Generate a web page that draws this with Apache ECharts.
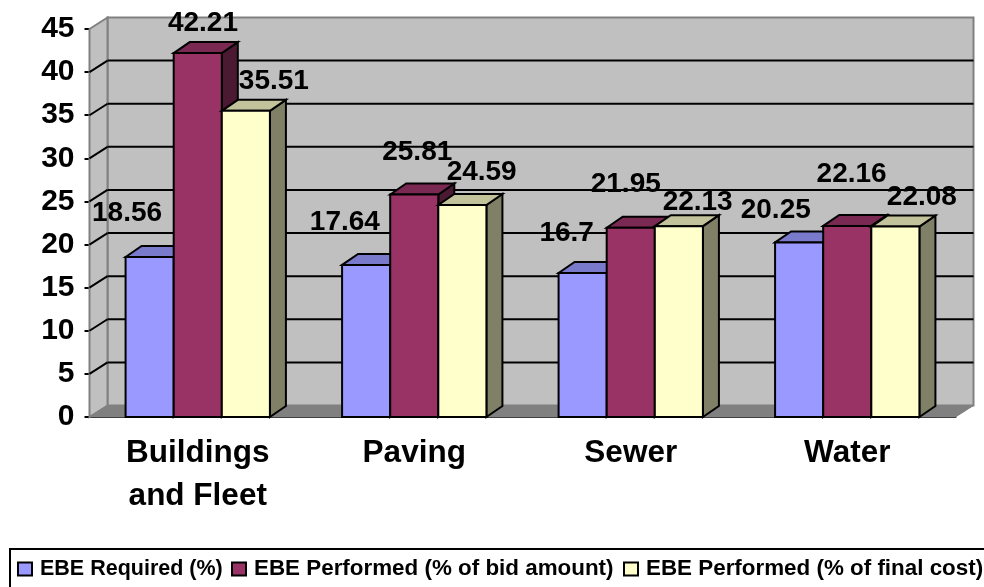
<!DOCTYPE html>
<html><head><meta charset="utf-8">
<style>html,body{margin:0;padding:0;background:#fff}#c{width:984px;height:587px}</style>
<script src="https://cdn.jsdelivr.net/npm/echarts@6/dist/echarts.min.js"></script></head>
<body><div id="c"></div>
<script>
const categories = ['Buildings\nand Fleet', 'Paving', 'Sewer', 'Water'];
const seriesNames = ['EBE Required (%)', 'EBE Performed (% of bid amount)', 'EBE Performed (% of final cost)'];
const required = [18.56, 17.64, 16.7, 20.25];
const bidAmount = [42.21, 25.81, 21.95, 22.16];
const finalCost = [35.51, 24.59, 22.13, 22.08];
const yTicks = [0, 5, 10, 15, 20, 25, 30, 35, 40, 45];

const FONT = '"Liberation Sans", Arial, sans-serif';
const faces = ['#9999ff', '#993366', '#ffffcc'];
const tops = ['#7a7acc', '#7a2952', '#c2c29b'];
const sides = ['#4c4c80', '#4c1933', '#808066'];
const D = { x: 18, y: 11.5 };
const B = { x: 16, y: 11 };
// hand placement of the data labels relative to the bar's top centre
const nudges = [
  [[-22.6, -44], [-21.3, -42.3], [-16, -40], [-23.4, -32.4]],
  [[5.2, -29.3], [3, -41.8], [-5, -43], [4.4, -51.3]],
  [[28, -29.8], [19.3, -32.3], [18.8, -23.5], [26.5, -29.6]]
];

function wall(params, api) {
  const cs = params.coordSys;
  const x0 = cs.x, x1 = cs.x + cs.width;
  const y0 = api.coord([0, 0])[1], yT = api.coord([0, 45])[1];
  const ch = [];
  const gs = { stroke: '#808080', lineWidth: 2, lineJoin: 'miter' };
  ch.push({ type: 'polygon', shape: { points: [[x0 + D.x, yT - D.y], [x1 + D.x, yT - D.y], [x1 + D.x, y0 - D.y], [x0 + D.x, y0 - D.y]] }, style: { fill: '#c0c0c0', ...gs } });
  ch.push({ type: 'polygon', shape: { points: [[x0, yT], [x0 + D.x, yT - D.y], [x0 + D.x, y0 - D.y], [x0, y0]] }, style: { fill: '#c0c0c0', ...gs } });
  ch.push({ type: 'polygon', shape: { points: [[x0, y0], [x0 + D.x, y0 - D.y], [x1 + D.x, y0 - D.y], [x1, y0]] }, style: { fill: '#808080', stroke: '#808080', lineWidth: 1 } });
  yTicks.forEach(function (t) {
    const y = api.coord([0, t])[1];
    if (t > 0 && t < 45) {
      ch.push({ type: 'line', shape: { x1: x0 + D.x, y1: y - D.y, x2: x1 + D.x, y2: y - D.y }, style: { stroke: '#000', lineWidth: 2 } });
    }
    if (t < 45) {
      ch.push({ type: 'line', shape: { x1: x0, y1: y, x2: x0 + D.x, y2: y - D.y }, style: { stroke: t === 0 ? '#808080' : '#000', lineWidth: t === 0 ? 1 : 2 } });
    }
  });
  return { type: 'group', children: ch };
}

function barRender(si, vals) {
  return function (params, api) {
    const cat = api.value(0), val = api.value(1);
    const band = api.size([1, 0])[0];
    const w = band / 4.5;
    const base = api.coord([cat, 0]);
    const top = api.coord([cat, val]);
    const l = base[0] + (si - 1.5) * w, r = l + w;
    const yT = top[1], yB = base[1];
    const st = { stroke: '#000', lineWidth: 2, lineJoin: 'miter' };
    const n = nudges[si][cat];
    return { type: 'group', children: [
      { type: 'polygon', shape: { points: [[r, yB], [r + B.x, yB - B.y], [r + B.x, yT - B.y], [r, yT]] }, style: { fill: sides[si], ...st } },
      { type: 'polygon', shape: { points: [[l, yT], [l + B.x, yT - B.y], [r + B.x, yT - B.y], [r, yT]] }, style: { fill: tops[si], ...st } },
      { type: 'rect', shape: { x: l, y: yT, width: w, height: yB - yT }, style: { fill: faces[si], ...st } },
      { type: 'text', z2: 100, style: { text: String(vals[cat]), x: (l + r) / 2 + n[0], y: yT + n[1], align: 'center', verticalAlign: 'middle', font: 'bold 28px ' + FONT, fill: '#000' } }
    ] };
  };
}

const chart = echarts.init(document.getElementById('c'), null, { renderer: 'canvas' });
const valuesBySeries = [required, bidAmount, finalCost];
const legendLefts = [17, 231, 623];
const legendSizes = [21.5, 22.4, 22.4];
chart.setOption({
  animation: false,
  backgroundColor: '#fff',
  grid: { left: 89.5, right: 28.5, top: 29, bottom: 170, containLabel: false },
  graphic: [{ type: 'rect', z: -1, shape: { x: 10, y: 549, width: 1100, height: 200 }, style: { fill: '#fff', stroke: '#000', lineWidth: 2 } }],
  legend: seriesNames.map(function (n, i) {
    return {
      left: legendLefts[i], top: 558, itemWidth: 14, itemHeight: 13, padding: 0, icon: 'rect',
      data: [{ name: n, itemStyle: { color: faces[i], borderColor: '#000', borderWidth: 2 } }],
      textStyle: { fontFamily: FONT, fontWeight: 'bold', fontSize: legendSizes[i], color: '#000', padding: [4, 0, 0, 3] }
    };
  }),
  xAxis: {
    type: 'category', data: categories,
    axisLine: { lineStyle: { color: '#000', width: 2 } },
    axisTick: { alignWithLabel: false, length: 6, lineStyle: { color: '#000', width: 2 } },
    axisLabel: { fontFamily: FONT, fontWeight: 'bold', fontSize: 31.5, color: '#000', lineHeight: 43, margin: 15, interval: 0 }
  },
  yAxis: {
    type: 'value', min: 0, max: 45, interval: 5,
    splitLine: { show: false },
    axisLine: { show: true, lineStyle: { color: '#000', width: 2 } },
    axisTick: { show: true, length: 5, lineStyle: { color: '#000', width: 2 } },
    axisLabel: { fontFamily: FONT, fontWeight: 'bold', fontSize: 30, color: '#000', margin: 15, padding: [6, 0, 0, 0] }
  },
  series: [
    { type: 'custom', name: '_wall', silent: true, z: 1, renderItem: wall, data: [[0, 0]], encode: { x: 0, y: 1 } }
  ].concat(seriesNames.map(function (n, i) {
    return {
      type: 'custom', name: n, z: 2, itemStyle: { color: faces[i] },
      renderItem: barRender(i, valuesBySeries[i]),
      encode: { x: 0, y: 1 },
      data: valuesBySeries[i].map(function (v, k) { return [k, v]; })
    };
  }))
});
</script></body></html>
